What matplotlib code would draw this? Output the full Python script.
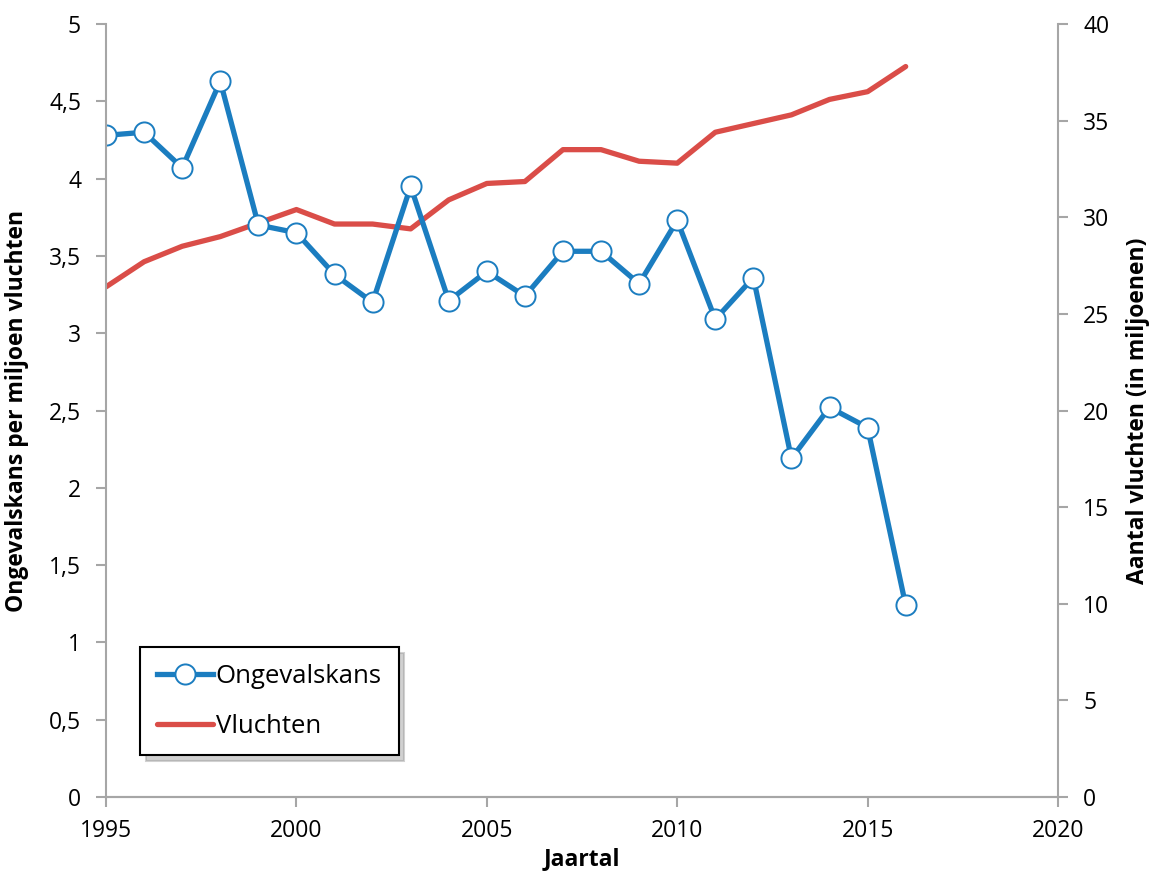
import matplotlib
matplotlib.use("Agg")
import matplotlib.pyplot as plt
from matplotlib.ticker import FuncFormatter, MultipleLocator

plt.rcParams['font.family'] = ['Open Sans', 'DejaVu Sans']

years = [1995, 1996, 1997, 1998, 1999, 2000, 2001, 2002, 2003, 2004, 2005,
         2006, 2007, 2008, 2009, 2010, 2011, 2012, 2013, 2014, 2015, 2016]
ongevalskans = [4.28, 4.30, 4.07, 4.63, 3.70, 3.65, 3.38, 3.20, 3.95, 3.21, 3.40,
                3.24, 3.53, 3.53, 3.32, 3.73, 3.09, 3.36, 2.19, 2.52, 2.39, 1.24]
vluchten = [26.4, 27.7, 28.5, 29.0, 29.7, 30.4, 29.65, 29.65, 29.4, 30.9, 31.75,
            31.85, 33.5, 33.5, 32.9, 32.8, 34.4, 34.85, 35.3, 36.1, 36.5, 37.8]

BLUE = '#1B7DC0'
RED = '#DA4D48'
GRID = '#A6A6A6'
FS = 16.5
LFS = 18.5

fig = plt.figure(figsize=(11.5, 8.74), dpi=100)
ax = fig.add_axes([0.0922, 0.0881, 0.8278, 0.8844])
ax2 = ax.twinx()

ax.set_zorder(ax2.get_zorder() + 1)
ax.patch.set_visible(False)

lv, = ax2.plot(years, vluchten, color=RED, lw=3.8, solid_capstyle='round',
               solid_joinstyle='round', label='Vluchten')
lo, = ax.plot(years, ongevalskans, color=BLUE, lw=3.8, marker='o', ms=14.5,
              mfc='white', mec=BLUE, mew=1.4, solid_joinstyle='round',
              label='Ongevalskans')

ax.set_xlim(1995, 2020)
ax.set_ylim(0, 5)
ax2.set_ylim(0, 40)
ax.xaxis.set_major_locator(MultipleLocator(5))
ax.yaxis.set_major_locator(MultipleLocator(0.5))
ax2.yaxis.set_major_locator(MultipleLocator(5))

ax.yaxis.set_major_formatter(FuncFormatter(lambda v, p: ('%g' % v).replace('.', ',')))

for a in (ax, ax2):
    for s in a.spines.values():
        s.set_color(GRID)
        s.set_linewidth(1.5)
    a.spines['top'].set_visible(False)
    a.tick_params(colors=GRID, labelcolor='black', labelsize=FS, width=1.5,
                  length=7, direction='out')
ax.spines['right'].set_visible(False)
ax2.spines['left'].set_visible(False)
ax.tick_params(axis='y', pad=11)
ax2.tick_params(axis='y', pad=11)
ax.tick_params(axis='x', pad=9)

ax.set_xlabel('Jaartal', fontsize=FS, fontweight='bold', labelpad=3)
ax.set_ylabel('Ongevalskans per miljoen vluchten', fontsize=FS, fontweight='bold', labelpad=14)
ax2.set_ylabel('Aantal vluchten (in miljoenen)', fontsize=FS, fontweight='bold', labelpad=12)

leg = ax.legend([lo, lv], ['Ongevalskans', 'Vluchten'], loc='lower left',
                bbox_to_anchor=(0.0357, 0.054), borderaxespad=0, fontsize=LFS,
                frameon=True, fancybox=False, edgecolor='black',
                shadow={'color': '0.6', 'alpha': 0.45, 'ox': 4, 'oy': -4},
                handlelength=2.2, handletextpad=0.1, labelspacing=0.95,
                borderpad=0.65)
leg.get_frame().set_linewidth(1.5)

fig.savefig('out.png', dpi=100)
